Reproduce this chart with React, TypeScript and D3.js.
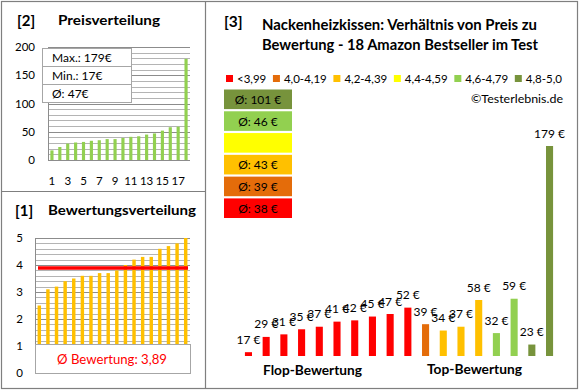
import React, { useLayoutEffect, useRef, useState } from 'react';
import * as d3 from 'd3';

const priceSorted = [17, 23, 29, 31, 32, 34, 35, 37, 37, 39, 41, 42, 45, 47, 52, 58, 59, 179];
const ratingSorted = [2.5, 3.1, 3.2, 3.4, 3.5, 3.6, 3.6, 3.7, 3.7, 3.8, 4.0, 4.2, 4.3, 4.3, 4.6, 4.7, 4.8, 5.0];
const productPrices = [17, 29, 31, 35, 37, 41, 42, 45, 47, 52, 39, 34, 37, 58, 32, 59, 23, 179];
const productGroups = [0, 0, 0, 0, 0, 0, 0, 0, 0, 0, 1, 2, 2, 2, 4, 4, 5, 5];
const groupLabels = ['<3,99', '4,0-4,19', '4,2-4,39', '4,4-4,59', '4,6-4,79', '4,8-5,0'];
const groupColors = ['#FF0000', '#E46C0A', '#FFC000', '#FFFF00', '#92D050', '#77933C'];
const groupAverages = [38, 39, 43, null, 46, 101];
const priceTicks = [0, 50, 100, 150, 200];
const priceXTicks = [1, 3, 5, 7, 9, 11, 13, 15, 17];
const ratingTicks = [0, 1, 2, 3, 4, 5];
const priceStats = ['Max.: 179€', 'Min.: 17€', 'Ø: 47€'];
const ratingAverage = 3.89;
const ratingAverageLabel = 'Ø Bewertung: 3,89';
const priceAxisMin = 14;
const priceAxisMax = 179;

const FONT = 'Lato, "Open Sans", sans-serif';

function Fit(props: { x: number; y: number; w: number; size: number; bold?: boolean; anchor?: string; fill?: string; children: string }) {
  const { x, y, w, size, bold, anchor, fill, children } = props;
  return (
    <text x={x} y={y} fontSize={size} fontWeight={bold ? 'bold' : 'normal'} textAnchor={anchor || 'start'}
      fill={fill || '#000'} textLength={w} lengthAdjust="spacingAndGlyphs">{children}</text>
  );
}

export default function App() {
  const xP = d3.scaleBand<number>().domain(d3.range(18)).range([48, 190]).paddingInner(0.6).paddingOuter(0.3);
  const yP = d3.scaleLinear().domain([0, 200]).range([160, 47]);
  const pGrid = d3.range(0, 201, 10);

  const xR = d3.scaleBand<number>().domain(d3.range(18)).range([35, 190]).paddingInner(0.6).paddingOuter(0.3);
  const yR = d3.scaleLinear().domain([0, 5]).range([373, 238]);
  const rGrid = d3.range(0, 26).map((i) => i * 0.2);

  const xM = d3.scaleBand<number>().domain(d3.range(18)).range([239.6, 558.4]).paddingInner(0.6).paddingOuter(0.3);
  const yM = d3.scaleLinear().domain([priceAxisMin, priceAxisMax]).range([356, 146]);
  const avgOrder = [5, 4, 3, 2, 1, 0];
  const yA = d3.scaleBand<number>().domain(d3.range(6)).range([89.5, 218]).paddingInner(0.1);

  // legend: lay out from measured text lengths, then spread to fit [226, 562]
  const legendRefs = useRef<(SVGTextElement | null)[]>([]);
  const [legendPos, setLegendPos] = useState<number[]>([226, 273, 338, 398, 457, 515]);
  useLayoutEffect(() => {
    const widths = legendRefs.current.map((el) => (el ? el.getComputedTextLength() : 40));
    const start = 226;
    const end = 562;
    const itemsTotal = widths.reduce((a, w) => a + 11 + w, 0);
    const gap = (end - start - itemsTotal) / (widths.length - 1);
    let x = start;
    const pos = widths.map((w) => {
      const p = x;
      x += 11 + w + gap;
      return p;
    });
    setLegendPos(pos);
  }, []);

  return (
    <svg width={580} height={390} style={{ position: 'absolute', left: 0, top: 0, background: '#fff' }} fontFamily={FONT}>
      <rect x={0} y={0} width={580} height={390} fill="#fff" />
      <rect x={1.5} y={1.5} width={576} height={387} fill="none" stroke="#7f7f7f" strokeWidth={1.2} />
      <line x1={205.5} x2={205.5} y1={1.5} y2={388.5} stroke="#7f7f7f" strokeWidth={1.2} />
      <line x1={1.5} x2={205.5} y1={191.5} y2={191.5} stroke="#7f7f7f" strokeWidth={1.2} />

      {/* ---------- Top-left ---------- */}
      <text x={17} y={26} fontSize={15} fontWeight="bold" fill="#000">[2]</text>
      <Fit x={58} y={25} w={102} size={13} bold>Preisverteilung</Fit>
      {pGrid.map((g) => (
        <line key={g} x1={48} x2={190} y1={Math.round(yP(g)) + 0.5} y2={Math.round(yP(g)) + 0.5}
          stroke={g % 50 === 0 ? '#8c8c8c' : '#b4b4b4'} strokeWidth={1} />
      ))}
      <line x1={48.5} x2={48.5} y1={yP(200)} y2={yP(0)} stroke="#8c8c8c" />
      {priceSorted.map((v, i) => (
        <rect key={i} x={xP(i)} y={yP(v)} width={xP.bandwidth()} height={yP(0) - yP(v)} fill="#92D050" />
      ))}
      {priceTicks.map((t) => (
        <text key={t} x={35} y={yP(t) + 4} fontSize={11.5} textAnchor="end" fill="#000">{t}</text>
      ))}
      {priceXTicks.map((t) => (
        <text key={t} x={(xP(t - 1) as number) + xP.bandwidth() / 2} y={185} fontSize={11.5} textAnchor="middle" fill="#000">{t}</text>
      ))}
      <rect x={42.5} y={48.5} width={89} height={54} fill="#fff" stroke="#a6a6a6" />
      <line x1={42.5} x2={131.5} y1={66.5} y2={66.5} stroke="#a6a6a6" />
      <line x1={42.5} x2={131.5} y1={84.5} y2={84.5} stroke="#a6a6a6" />
      {priceStats.map((s, i) => (
        <text key={s} x={52} y={62 + i * 18} fontSize={12} fill="#000">{s}</text>
      ))}

      {/* ---------- Bottom-left ---------- */}
      <text x={15} y={216} fontSize={15} fontWeight="bold" fill="#000">[1]</text>
      <Fit x={48} y={215} w={148} size={13.5} bold>Bewertungsverteilung</Fit>
      {rGrid.map((g, i) => (
        <line key={i} x1={35} x2={190} y1={Math.round(yR(g)) + 0.5} y2={Math.round(yR(g)) + 0.5}
          stroke={i % 5 === 0 ? '#8c8c8c' : '#b4b4b4'} strokeWidth={1} />
      ))}
      <line x1={35.5} x2={35.5} y1={yR(5)} y2={yR(0)} stroke="#8c8c8c" />
      {ratingSorted.map((v, i) => (
        <rect key={i} x={xR(i)} y={yR(v)} width={xR.bandwidth()} height={yR(0) - yR(v)} fill="#FFC000" />
      ))}
      {ratingTicks.map((t) => (
        <text key={t} x={23} y={yR(t) + 4} fontSize={11.5} textAnchor="end" fill="#000">{t}</text>
      ))}
      <line x1={38} x2={188} y1={yR(ratingAverage)} y2={yR(ratingAverage)} stroke="#FF0000" strokeWidth={3.5} />
      <rect x={35.5} y={344.5} width={155} height={29} fill="#fff" stroke="#a6a6a6" />
      <Fit x={57} y={364} w={110} size={13} fill="#FF0000">{ratingAverageLabel}</Fit>

      {/* ---------- Right ---------- */}
      <text x={224} y={27} fontSize={15.5} fontWeight="bold" fill="#000">[3]</text>
      <Fit x={262} y={30} w={275} size={14.5} bold>Nackenheizkissen: Verhältnis von Preis zu</Fit>
      <Fit x={262} y={50} w={276} size={14.5} bold>Bewertung - 18 Amazon Bestseller im Test</Fit>

      {groupLabels.map((l, i) => (
        <g key={l}>
          <rect x={legendPos[i]} y={75} width={7} height={7} fill={groupColors[i]} />
          <text ref={(el) => { legendRefs.current[i] = el; }} x={legendPos[i] + 11} y={83} fontSize={11.5} fill="#000">{l}</text>
        </g>
      ))}
      <Fit x={471} y={103} w={92} size={12}>©Testerlebnis.de</Fit>

      {avgOrder.map((g, i) => (
        <g key={g}>
          <rect x={224} y={yA(i)} width={68} height={yA.bandwidth()} fill={groupColors[g]} />
          {groupAverages[g] !== null && (
            <text x={258} y={(yA(i) as number) + yA.bandwidth() / 2 + 4.5} fontSize={12} textAnchor="middle" fill="#000">
              {`Ø: ${groupAverages[g]} €`}
            </text>
          )}
        </g>
      ))}

      {productPrices.map((v, i) => (
        <g key={i}>
          <rect x={xM(i)} y={yM(v)} width={xM.bandwidth()} height={yM(priceAxisMin) - yM(v)} fill={groupColors[productGroups[i]]} />
          <text x={(xM(i) as number) + xM.bandwidth() / 2} y={yM(v) - 8.5} fontSize={12} textAnchor="middle" fill="#000">{`${v} €`}</text>
        </g>
      ))}
      <Fit x={263} y={375} w={99} size={13.5} bold>Flop-Bewertung</Fit>
      <Fit x={427} y={374} w={95} size={13.5} bold>Top-Bewertung</Fit>
    </svg>
  );
}
